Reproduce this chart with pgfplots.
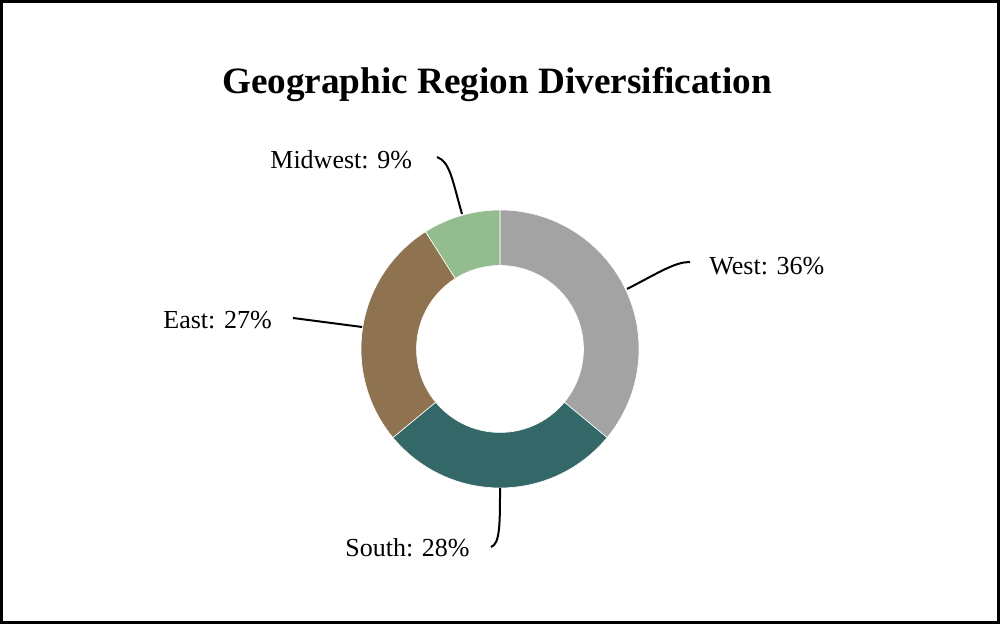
\documentclass[border=0pt]{standalone}
\usepackage{pgfplots}
\usepackage{pgfplotstable}
\pgfplotsset{compat=1.18}
\usepackage{fontspec}
\setmainfont{Liberation Serif}
\definecolor{cWest}{HTML}{A3A3A3}
\definecolor{cSouth}{HTML}{346767}
\definecolor{cEast}{HTML}{8F7350}
\definecolor{cMidwest}{HTML}{94BD8F}
\pgfplotstableread{
region value color
West 36 cWest
South 28 cSouth
East 27 cEast
Midwest 9 cMidwest
}\donutdata
\begin{document}
\begin{tikzpicture}
\begin{axis}[
  width=500pt, height=312pt, scale only axis,
  xmin=0, xmax=1000, ymin=0, ymax=624,
  axis lines=none, xtick=\empty, ytick=\empty,
  clip=false,
]
\def\startang{90}
\pgfplotsforeachungrouped \i in {0,...,3}{%
  \pgfplotstablegetelem{\i}{value}\of\donutdata
  \let\val\pgfplotsretval
  \pgfplotstablegetelem{\i}{color}\of\donutdata
  \let\col\pgfplotsretval
  \pgfmathsetmacro\endang{\startang-3.6*\val}%
  \edef\tmp{\noexpand\fill[\col, draw=white, line width=0.3pt]
    ([shift={(\startang:69.5pt)}]axis cs:500,275)
    arc[start angle=\startang, end angle=\endang, radius=69.5pt]
    -- ([shift={(\endang:41.75pt)}]axis cs:500,275)
    arc[start angle=\endang, end angle=\startang, radius=41.75pt] -- cycle;}%
  \tmp
  \global\let\startang\endang
}
% leader lines
\draw[line width=1pt] (axis cs:627,335) .. controls (axis cs:660,352) and (axis cs:675,362) .. (axis cs:690,362);
\draw[line width=1pt] (axis cs:462,410) .. controls (axis cs:452,445) and (axis cs:450,462) .. (axis cs:437,467);
\draw[line width=1pt] (axis cs:500,136) .. controls (axis cs:500,100) and (axis cs:500,80) .. (axis cs:491,77);
\draw[line width=1pt] (axis cs:293,306) -- (axis cs:362,297);
% labels
\node[anchor=base west, inner sep=0pt, font=\fontsize{13}{15}\selectfont] at (axis cs:709,349) {West: 36\%};
\node[anchor=base west, inner sep=0pt, font=\fontsize{13}{15}\selectfont] at (axis cs:345,67) {South: 28\%};
\node[anchor=base west, inner sep=0pt, font=\fontsize{13}{15}\selectfont] at (axis cs:163,295) {East: 27\%};
\node[anchor=base west, inner sep=0pt, font=\fontsize{13}{15}\selectfont] at (axis cs:270,455) {Midwest: 9\%};
% title
\node[anchor=base, inner sep=0pt, font=\bfseries\fontsize{18.6}{22}\selectfont] at (axis cs:497,530) {Geographic Region Diversification};
% frame
\draw[line width=1.5pt] (axis cs:1.5,1.5) rectangle (axis cs:998.5,622.5);
\end{axis}
\end{tikzpicture}
\end{document}
